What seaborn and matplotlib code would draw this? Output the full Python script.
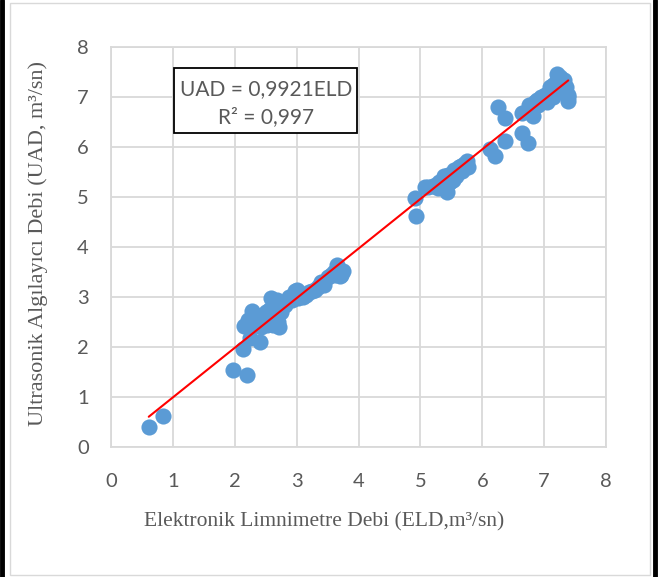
import matplotlib
matplotlib.use("Agg")
import matplotlib.pyplot as plt
from matplotlib.patches import Rectangle
from matplotlib.lines import Line2D
import numpy as np
import pandas as pd
import seaborn as sns

# Electronic limnimeter discharge (ELD) vs ultrasonic sensor discharge (UAD), m3/s
eld = [0.61, 0.84, 1.97, 2.20, 2.13,
       2.15, 2.18, 2.22, 2.25, 2.28, 2.30, 2.32, 2.35, 2.38, 2.40, 2.42, 2.45,
       2.48, 2.50, 2.52, 2.55, 2.58, 2.60, 2.62, 2.65, 2.68, 2.70, 2.72, 2.75, 2.78,
       2.82, 2.88, 2.92, 2.95, 2.98, 3.00, 3.02, 3.05, 3.10, 3.15, 3.20, 3.25,
       3.30, 3.35, 3.40, 3.45,
       3.50, 3.55, 3.60, 3.62, 3.65, 3.68, 3.70, 3.72, 3.75, 3.70,
       4.92, 4.93, 5.07, 5.12, 5.20, 5.25, 5.30, 5.35, 5.38, 5.43, 5.42, 5.45,
       5.50, 5.52, 5.55, 5.60, 5.62, 5.65, 5.70, 5.75, 5.77, 5.74,
       5.28, 5.48, 5.58, 5.68,
       6.13, 6.20, 6.26, 6.37, 6.37, 6.64, 6.64, 6.74, 6.82,
       6.80, 6.85, 6.90, 6.95, 7.00, 7.02, 7.05, 7.08, 7.10, 7.12, 7.15, 7.18,
       7.20, 7.21, 7.25, 7.28, 7.30, 7.32, 7.35, 7.38, 7.39, 7.39, 6.75, 6.88,
       7.05, 7.15, 7.25, 7.33]
uad = [0.40, 0.62, 1.54, 1.44, 1.96,
       2.42, 2.45, 2.55, 2.18, 2.72, 2.60, 2.48, 2.65, 2.55, 2.10, 2.40, 2.62,
       2.55, 2.70, 2.45, 2.75, 2.98, 2.60, 2.45, 2.80, 2.95, 2.50, 2.40, 2.70, 2.85,
       2.85, 3.00, 2.95, 3.05, 3.12, 3.15, 2.98, 3.05, 3.00, 3.05, 3.10, 3.12,
       3.15, 3.20, 3.30, 3.25,
       3.40, 3.45, 3.50, 3.45, 3.65, 3.55, 3.50, 3.45, 3.52, 3.42,
       4.98, 4.62, 5.20, 5.20, 5.22, 5.25, 5.30, 5.32, 5.42, 5.10, 5.35, 5.45,
       5.40, 5.35, 5.55, 5.50, 5.60, 5.62, 5.66, 5.72, 5.60, 5.66,
       5.18, 5.30, 5.42, 5.52,
       5.96, 5.83, 6.80, 6.58, 6.12, 6.68, 6.28, 6.08, 6.62,
       6.75, 6.90, 6.85, 7.00, 6.95, 7.05, 7.00, 7.10, 7.20, 7.05, 7.25, 7.15,
       7.35, 7.47, 7.30, 7.20, 7.25, 7.35, 7.20, 7.05, 6.92, 7.00, 6.85, 6.95,
       6.90, 7.00, 7.40, 7.15]

slope = 0.9921
r2 = 0.997
ticks = [0, 1, 2, 3, 4, 5, 6, 7, 8]

df = pd.DataFrame({"ELD": eld, "UAD": uad})

sns.set_theme(style="white")
plt.rcParams["font.family"] = ["Lato", "DejaVu Sans"]

W, H = 664, 577
fig = plt.figure(figsize=(W / 100, H / 100), dpi=100)
ax = fig.add_axes([111 / W, 1 - 447 / H, (606 - 111) / W, (447 - 47) / H])

sns.scatterplot(data=df, x="ELD", y="UAD", ax=ax, color="#5B9BD5",
                s=135, linewidth=0, alpha=1, zorder=3)

# linear trend through the origin
xl = np.array([df["ELD"].min(), df["ELD"].max()])
sns.lineplot(x=xl, y=slope * xl, ax=ax, color="#FF0000", linewidth=1.5, zorder=4)

ax.set_xlim(0, 8)
ax.set_ylim(0, 8)
ax.set_xticks(ticks)
ax.set_yticks(ticks)
ax.set_xticklabels([str(t) for t in ticks])
ax.set_yticklabels([str(t) for t in ticks])
ax.grid(True, color="#D9D9D9", linewidth=1.3)
ax.set_axisbelow(True)
for sp in ax.spines.values():
    sp.set_visible(True)
    sp.set_color("#D9D9D9")
    sp.set_linewidth(1.3)
ax.tick_params(axis="both", length=0, labelsize=14.5, labelcolor="#595959")
ax.tick_params(axis="x", pad=19)
ax.tick_params(axis="y", pad=16)
ax.set_xlabel("")
ax.set_ylabel("")

serif = ["Liberation Serif", "DejaVu Serif"]
fig.text(324 / W, 1 - 522 / H, "Elektronik Limnimetre Debi (ELD,m³/sn)",
         family=serif, fontsize=15.5, color="#595959", ha="center", va="center")
fig.text(38 / W, 1 - 243 / H, "Ultrasonik Algılayıcı Debi (UAD, m³/sn)",
         family=serif, fontsize=16, color="#595959", ha="center", va="center",
         rotation=90)

# equation box
fig.patches.append(Rectangle((174 / W, 1 - 133 / H), (357 - 174) / W, (133 - 68) / H,
                             transform=fig.transFigure, facecolor="white",
                             edgecolor="black", linewidth=1.3, zorder=5))
fig.text(266 / W, 1 - 89 / H, "UAD = 0,9921ELD", fontsize=15, color="#595959",
         ha="center", va="center", zorder=6)
fig.text(266 / W, 1 - 117 / H, "R² = " + f"{r2:.3f}".replace(".", ","),
         fontsize=15, color="#595959", ha="center", va="center", zorder=6)

# chart frame
fig.patches.append(Rectangle((10 / W, 1 - 575 / H), (650 - 10) / W, (575 - 3) / H,
                             transform=fig.transFigure, facecolor="none",
                             edgecolor="#D9D9D9", linewidth=1.0))
fig.lines.append(Line2D([2 / W, 2 / W], [0, 1], transform=fig.transFigure,
                        color="black", linewidth=3.5))
fig.lines.append(Line2D([655 / W, 655 / W], [0, 1], transform=fig.transFigure,
                        color="black", linewidth=3.5))

fig.savefig("out.png", dpi=100)
